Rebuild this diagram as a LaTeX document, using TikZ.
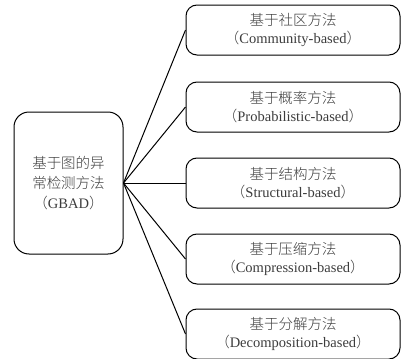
\documentclass[tikz,border=0pt]{standalone}
\usepackage{fontspec}
\setmainfont{Liberation Serif}
\newfontfamily\cjk{Noto Sans CJK SC Light}
\definecolor{labelgray}{RGB}{60,60,60}
\tikzset{
  rootbox/.style={draw=black, line width=1pt, rounded corners=15pt,
    minimum width=109pt, minimum height=142pt, align=center,
    text=labelgray, font=\fontsize{14.5}{20}\selectfont, inner sep=0pt},
  leafbox/.style={draw=black, line width=1pt, rounded corners=11pt,
    minimum width=214pt, minimum height=50pt, align=center,
    text=labelgray, font=\fontsize{14.5}{18.5}\selectfont, inner sep=0pt},
  link/.style={draw=black, line width=1pt}
}
\begin{document}
\begin{tikzpicture}[x=1pt, y=-1pt]
  \useasboundingbox (0,0) rectangle (405,359);
  % root method family
  \node[rootbox] (root) at (68.5,183) {{\cjk 基于图的异}\\{\cjk 常检测方法}\\{\cjk （}GBAD{\cjk ）}};
  % five sub-categories
  \node[leafbox] (c1) at (293,30)  {{\cjk 基于社区方法}\\{\cjk （}Community-based{\cjk ）}};
  \node[leafbox] (c2) at (293,107) {{\cjk 基于概率方法}\\{\cjk （}Probabilistic-based{\cjk ）}};
  \node[leafbox] (c3) at (293,183) {{\cjk 基于结构方法}\\{\cjk （}Structural-based{\cjk ）}};
  \node[leafbox] (c4) at (293,259) {{\cjk 基于压缩方法}\\{\cjk （}Compression-based{\cjk ）}};
  \node[leafbox] (c5) at (293,334) {{\cjk 基于分解方法}\\{\cjk （}Decomposition-based{\cjk ）}};
  % fan-out connectors
  \foreach \c in {c1,c2,c3,c4,c5}
    \draw[link] (root.east) -- (\c.west);
\end{tikzpicture}
\end{document}
